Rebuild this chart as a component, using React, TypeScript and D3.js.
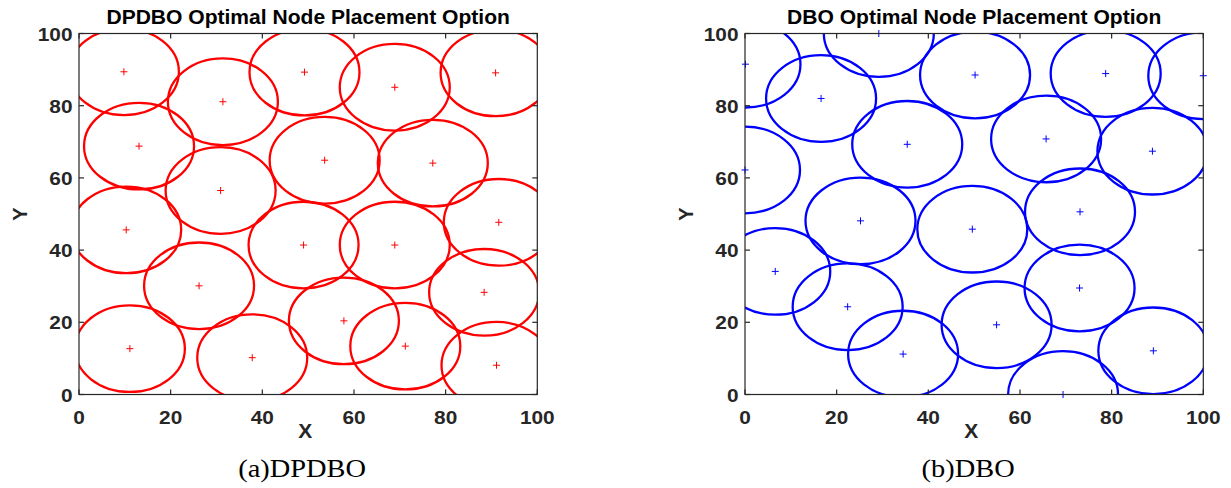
import React from "react";
import * as d3 from "d3";

// Node centres (coverage radius in data units)
const coverageRadius = 12;

const dpdboX = [9.8, 31.4, 49.2, 68.9, 90.9, 13.1, 53.6, 77.2, 30.9, 10.3, 49.0, 68.9, 91.6, 26.2, 88.4, 57.8, 71.2, 11.1, 37.8, 91.1];
const dpdboY = [89.4, 81.1, 89.3, 85.1, 89.1, 68.8, 64.9, 64.1, 56.5, 45.6, 41.4, 41.4, 47.7, 30.1, 28.3, 20.4, 13.4, 12.7, 10.2, 8.1];

const dboX = [0.1, 16.6, 29.2, 35.4, 0, 25.2, 50.2, 78.7, 100, 65.7, 88.9, 73.1, 49.6, 6.6, 22.4, 34.5, 73.0, 54.9, 89.1, 69.4];
const dboY = [91.5, 82.0, 100, 69.3, 62.2, 48.1, 88.5, 88.9, 88.3, 70.8, 67.4, 50.6, 45.8, 34.1, 24.3, 11.2, 29.5, 19.3, 12.1, 0];

const tickValues = [0, 20, 40, 60, 80, 100];

const axisFont = "'Liberation Sans', Arial, Helvetica, sans-serif";
const serifFont = "'Liberation Serif', 'Times New Roman', serif";
const axisColor = "#262626";

type LabelProps = {
  x: number;
  y: number;
  sx: number;
  anchor: "start" | "middle" | "end";
  size: number;
  family: string;
  bold?: boolean;
  fill: string;
  children: React.ReactNode;
};

// Text with a horizontal stretch factor, as in the exported figure
function Label({ x, y, sx, anchor, size, family, bold, fill, children }: LabelProps) {
  return (
    <text
      transform={`translate(${x},${y}) scale(${sx},1)`}
      textAnchor={anchor}
      fontFamily={family}
      fontWeight={bold ? "bold" : "normal"}
      fontSize={size}
      fill={fill}
    >
      {children}
    </text>
  );
}

type PanelProps = {
  id: string;
  left: number;
  right: number;
  top: number;
  bottom: number;
  xs: number[];
  ys: number[];
  color: string;
  title: string;
  caption: string;
};

function Panel({ id, left, right, top, bottom, xs, ys, color, title, caption }: PanelProps) {
  const x = d3.scaleLinear().domain([0, 100]).range([left, right]);
  const y = d3.scaleLinear().domain([0, 100]).range([bottom, top]);
  const rx = x(coverageRadius) - x(0);
  const ry = y(0) - y(coverageRadius);
  const tickLen = 5;
  const cross = 3.5;
  const cx = (left + right) / 2;

  return (
    <g>
      <defs>
        <clipPath id={`clip-${id}`}>
          <rect x={left} y={top} width={right - left} height={bottom - top} />
        </clipPath>
      </defs>

      <g clipPath={`url(#clip-${id})`}>
        {xs.map((v, i) => (
          <ellipse
            key={`c${i}`}
            cx={x(v)}
            cy={y(ys[i])}
            rx={rx}
            ry={ry}
            fill="none"
            stroke={color}
            strokeWidth={2.3}
          />
        ))}
      </g>

      {xs.map((v, i) => (
        <path
          key={`m${i}`}
          d={`M${x(v) - cross},${y(ys[i])}H${x(v) + cross}M${x(v)},${y(ys[i]) - cross}V${y(ys[i]) + cross}`}
          stroke={color}
          strokeWidth={1}
          fill="none"
        />
      ))}

      {/* box and ticks */}
      <rect x={left} y={top} width={right - left} height={bottom - top} fill="none" stroke={axisColor} strokeWidth={1.2} />
      {tickValues.map((t) => (
        <g key={`t${t}`} stroke={axisColor} strokeWidth={1.2}>
          <line x1={x(t)} x2={x(t)} y1={bottom} y2={bottom - tickLen} />
          <line x1={x(t)} x2={x(t)} y1={top} y2={top + tickLen} />
          <line x1={left} x2={left + tickLen} y1={y(t)} y2={y(t)} />
          <line x1={right} x2={right - tickLen} y1={y(t)} y2={y(t)} />
        </g>
      ))}

      {tickValues.map((t) => (
        <Label key={`xl${t}`} x={x(t)} y={bottom + 29} sx={1.12} anchor="middle" size={18.6} family={axisFont} bold fill={axisColor}>
          {t}
        </Label>
      ))}
      {tickValues.map((t) => (
        <Label key={`yl${t}`} x={left - 6.5} y={y(t) + 7} sx={1.12} anchor="end" size={18.6} family={axisFont} bold fill={axisColor}>
          {t}
        </Label>
      ))}

      <Label x={cx - 3} y={bottom + 43} sx={1.05} anchor="middle" size={20} family={axisFont} bold fill={axisColor}>
        X
      </Label>
      <text
        transform={`translate(${left - 52},${(top + bottom) / 2}) rotate(-90)`}
        textAnchor="middle"
        fontFamily={axisFont}
        fontWeight="bold"
        fontSize={20}
        fill={axisColor}
      >
        Y
      </text>

      <Label x={cx} y={top - 9.5} sx={1.08} anchor="middle" size={19.5} family={axisFont} bold fill="#000">
        {title}
      </Label>

      <Label x={cx - 6} y={476.5} sx={1.16} anchor="middle" size={24.5} family={serifFont} fill="#000">
        {caption}
      </Label>
    </g>
  );
}

export default function App() {
  return (
    <svg
      width={1231}
      height={488}
      style={{ position: "absolute", left: 0, top: 0, background: "#fff" }}
    >
      <Panel
        id="a"
        left={79}
        right={537.3}
        top={33.5}
        bottom={394.5}
        xs={dpdboX}
        ys={dpdboY}
        color="#ff0000"
        title="DPDBO Optimal Node Placement Option"
        caption="(a)DPDBO"
      />
      <Panel
        id="b"
        left={745}
        right={1203.3}
        top={33.5}
        bottom={394.5}
        xs={dboX}
        ys={dboY}
        color="#0000ff"
        title="DBO Optimal Node Placement Option"
        caption="(b)DBO"
      />
    </svg>
  );
}
